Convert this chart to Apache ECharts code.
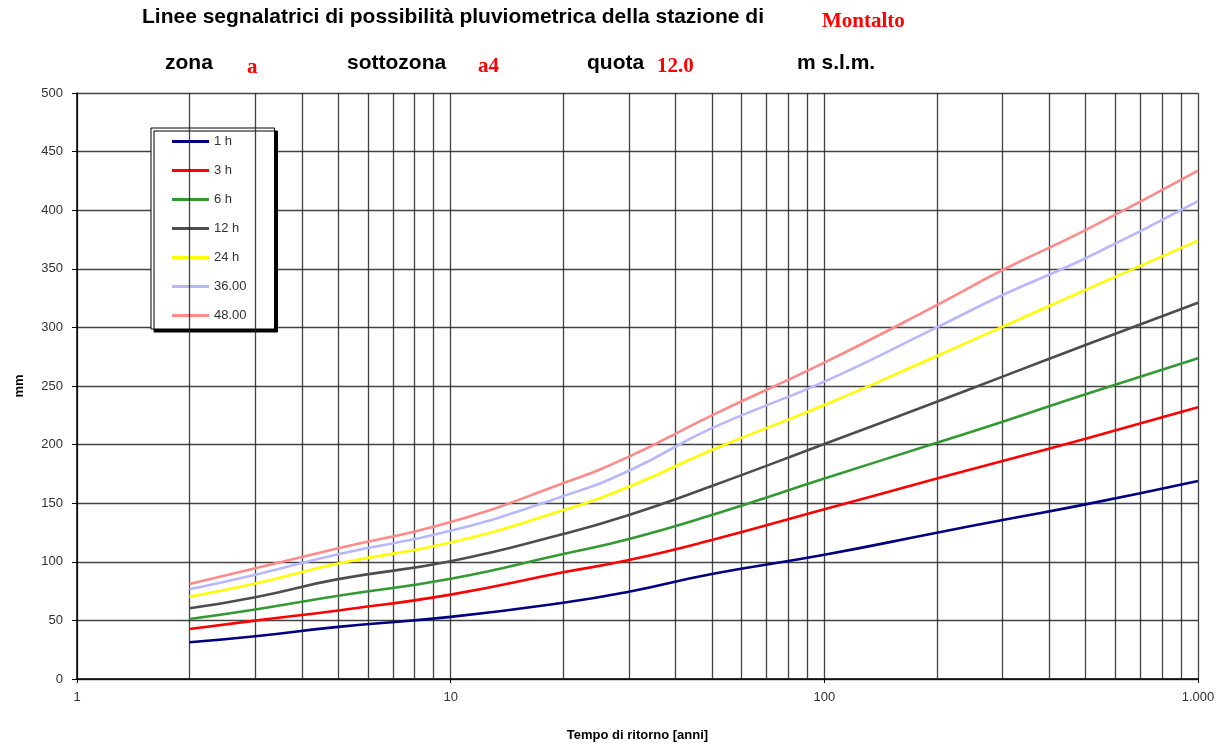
<!DOCTYPE html>
<html>
<head>
<meta charset="utf-8">
<script src="https://cdn.jsdelivr.net/npm/echarts@6/dist/echarts.min.js"></script>
<style>
html,body{margin:0;padding:0;background:#fff;}
#main{width:1231px;height:749px;}
</style>
</head>
<body>
<div id="main"></div>
<script>
// tempi di ritorno [anni]
var tempi = [2, 3, 5, 10, 20, 30, 50, 100, 200, 300, 500, 1000];
// altezze di pioggia [mm]
var h1  = [31.3, 36.5, 44.5, 53.0, 65.0, 74.5, 89.6, 106.0, 124.8, 135.7, 149.0, 169.0];
var h3  = [42.7, 49.8, 58.5, 72.0, 91.0, 101.5, 118.6, 144.8, 171.0, 186.0, 205.0, 231.8];
var h6  = [51.2, 59.3, 71.0, 85.5, 106.6, 119.5, 140.0, 171.0, 201.6, 219.5, 243.0, 273.6];
var h12 = [60.3, 69.8, 85.2, 100.5, 123.7, 140.0, 164.7, 200.5, 236.6, 258.0, 285.0, 321.0];
var h24 = [70.2, 81.5, 98.5, 116.5, 144.0, 164.0, 195.4, 233.8, 275.6, 300.6, 332.0, 374.0];
var h36 = [76.5, 89.0, 106.5, 126.5, 156.0, 177.7, 214.0, 253.7, 300.0, 327.6, 359.0, 407.8];
var h48 = [81.0, 94.5, 111.5, 134.0, 167.0, 189.7, 225.0, 270.0, 319.0, 349.0, 383.0, 433.7];
var nomi = ['1 h', '3 h', '6 h', '12 h', '24 h', '36.00', '48.00'];
var colori = ['#000080', '#ff0000', '#339933', '#4d4d4d', '#ffff00', '#b8b8ff', '#ff8a8a'];
// linee secondarie della scala logaritmica
var lineeMinori = [2, 3, 4, 5, 6, 7, 8, 9, 20, 30, 40, 50, 60, 70, 80, 90, 200, 300, 400, 500, 600, 700, 800, 900];

var serie = [h1, h3, h6, h12, h24, h36, h48];

var myChart = echarts.init(document.getElementById('main'));

var series = serie.map(function (vals, i) {
    return {
        name: nomi[i],
        type: 'line',
        z: 10,
        smooth: 0.5,
        showSymbol: false,
        symbol: 'none',
        data: tempi.map(function (t, k) { return [t, vals[k]]; }),
        lineStyle: {width: 2.6, color: colori[i]},
        itemStyle: {color: colori[i]}
    };
});
// griglia verticale secondaria
series.push({
    type: 'line',
    data: [],
    silent: true,
    markLine: {
        silent: true,
        symbol: 'none',
        label: {show: false},
        lineStyle: {color: '#222', width: 1.3, type: 'solid', opacity: 0.85},
        emphasis: {disabled: true},
        animation: false,
        data: lineeMinori.map(function (v) { return {xAxis: v}; })
    }
});

var nero = {fontFamily: 'Liberation Sans', fontWeight: 'bold', fontSize: 21, fill: '#000'};
var rosso = {fontFamily: 'Liberation Serif', fontWeight: 'bold', fontSize: 21, fill: '#ff0000'};
function testo(x, y, t, st) {
    return {type: 'text', left: x, top: y, style: Object.assign({text: t}, st)};
}

option = {
    animation: false,
    backgroundColor: '#fff',
    textStyle: {fontFamily: 'Liberation Sans'},
    grid: {left: 77, right: 33, top: 93, bottom: 70},
    graphic: [
        testo(142, 7, 'Linee segnalatrici di possibilità pluviometrica della stazione di', nero),
        testo(822, 11, 'Montalto', rosso),
        testo(165, 53, 'zona', nero),
        testo(247, 57, 'a', rosso),
        testo(347, 53, 'sottozona', nero),
        testo(478, 56, 'a4', rosso),
        testo(587, 53, 'quota', nero),
        testo(657, 56, '12.0', rosso),
        testo(797, 53, 'm s.l.m.', nero)
    ],
    legend: {
        orient: 'vertical',
        left: 151,
        top: 128,
        data: nomi,
        icon: 'rect',
        itemWidth: 37,
        itemHeight: 3,
        itemGap: 16,
        padding: [7, 28, 7, 21],
        backgroundColor: '#fff',
        borderColor: '#000',
        borderWidth: 1,
        borderRadius: 0,
        shadowColor: 'rgba(0,0,0,1)',
        shadowBlur: 0,
        shadowOffsetX: 3,
        shadowOffsetY: 3,
        textStyle: {fontSize: 13, color: '#333', fontFamily: 'Liberation Sans'}
    },
    xAxis: {
        type: 'log',
        logBase: 10,
        min: 1,
        max: 1000,
        name: 'Tempo di ritorno [anni]',
        nameLocation: 'middle',
        nameGap: 50,
        nameTextStyle: {fontWeight: 'bold', fontSize: 13, color: '#000'},
        axisLine: {lineStyle: {color: '#000', width: 1.5}},
        axisTick: {show: true, length: 4, lineStyle: {color: '#000'}},
        axisLabel: {
            fontSize: 13,
            color: '#333',
            margin: 12,
            formatter: function (v) { return v === 1000 ? '1.000' : String(v); }
        },
        splitLine: {show: true, lineStyle: {color: '#222', width: 1.3, opacity: 0.85}}
    },
    yAxis: {
        type: 'value',
        min: 0,
        max: 500,
        interval: 50,
        name: 'mm',
        nameLocation: 'middle',
        nameGap: 51,
        nameTextStyle: {fontWeight: 'bold', fontSize: 13, color: '#000'},
        axisLine: {show: true, lineStyle: {color: '#000', width: 1.5}},
        axisTick: {show: true, length: 5, lineStyle: {color: '#000'}},
        axisLabel: {fontSize: 13, color: '#333', margin: 14},
        splitLine: {show: true, lineStyle: {color: '#222', width: 1.3, opacity: 0.85}}
    },
    series: series
};
myChart.setOption(option);
</script>
</body>
</html>
